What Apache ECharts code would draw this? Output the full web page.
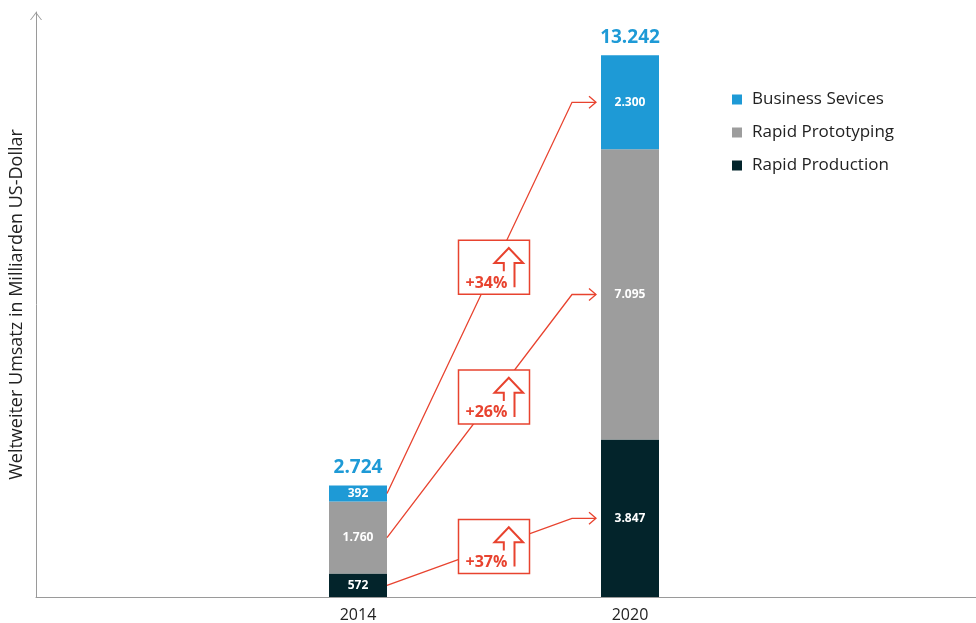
<!DOCTYPE html>
<html>
<head>
<meta charset="utf-8">
<script src="https://cdn.jsdelivr.net/npm/echarts@6/dist/echarts.min.js"></script>
<style>html,body{margin:0;padding:0;background:#fff}#c{width:976px;height:623px}</style>
</head>
<body>
<div id="c"></div>
<script>
const years = ['2014', '2020'];
const production = [572, 3847];
const prototyping = [1760, 7095];
const services = [392, 2300];
const growth = ['+37%', '+26%', '+34%']; // production, prototyping, services
const seriesNames = ['Rapid Production', 'Rapid Prototyping', 'Business Sevices'];
const legendOrder = ['Business Sevices', 'Rapid Prototyping', 'Rapid Production'];
const yAxisName = 'Weltweiter Umsatz in Milliarden US-Dollar';
const yMax = 14300;

const colors = ['#03242b', '#9d9d9d', '#1e9ad6'];
const red = '#e8432f';
const FONT = "'Open Sans', 'Noto Sans', sans-serif";
const fmt = n => String(n).replace(/\B(?=(\d{3})+(?!\d))/g, '.');
const layers = [production, prototyping, services];
const totals = years.map((_, i) => layers.reduce((s, a) => s + a[i], 0));

const chart = echarts.init(document.getElementById('c'));
const barSeries = layers.map((arr, k) => ({
  name: seriesNames[k],
  type: 'bar',
  stack: 'total',
  xAxisIndex: 1, yAxisIndex: 1,
  barWidth: 58,
  itemStyle: { color: colors[k] },
  label: { show: true, position: 'inside', color: '#fff', fontWeight: 'bold', fontSize: 12, fontFamily: FONT,
           formatter: p => fmt(p.value) },
  data: arr
}));
barSeries.push({
  name: 'Summe', type: 'bar', stack: 'total', xAxisIndex: 1, yAxisIndex: 1, barWidth: 58,
  itemStyle: { color: 'transparent' },
  label: { show: true, position: 'top', distance: 8, color: '#1e9ad6', fontWeight: 'bold', fontSize: 19, fontFamily: FONT,
           formatter: p => fmt(totals[p.dataIndex]) },
  data: years.map(() => 0)
});

chart.setOption({
  animation: false,
  textStyle: { fontFamily: FONT },
  grid: [
    { left: 36, right: 0, top: 12, bottom: 26, outerBoundsMode: 'none', containLabel: false },
    { left: 222, right: 210, top: 12, bottom: 26, outerBoundsMode: 'none', containLabel: false }
  ],
  legend: {
    data: legendOrder, orient: 'vertical', left: 732, top: 91, icon: 'rect',
    itemWidth: 10, itemHeight: 10, itemGap: 16, padding: 0,
    textStyle: { color: '#222', fontSize: 17, fontFamily: FONT, padding: [0, 0, 0, 5] }
  },
  xAxis: [
    { gridIndex: 0, type: 'value', min: 0, max: 1,
      axisLine: { show: true, lineStyle: { color: '#9a9a9a', width: 1 } },
      axisTick: { show: false }, axisLabel: { show: false }, splitLine: { show: false } },
    { gridIndex: 1, type: 'category', data: years,
      axisLine: { show: false }, axisTick: { show: false },
      axisLabel: { color: '#222', fontSize: 16, margin: 10, fontFamily: FONT } }
  ],
  yAxis: [
    { gridIndex: 0, type: 'value', min: 0, max: 1,
      axisLine: { show: true, symbol: ['none', 'path://M0,8 L6,0 L12,8 L11,8 L6,1.5 L1,8 Z'], symbolSize: [12, 8],
                  symbolOffset: [0, -4],
                  lineStyle: { color: '#9a9a9a', width: 1 } },
      axisTick: { show: false }, axisLabel: { show: false }, splitLine: { show: false },
      name: yAxisName, nameLocation: 'middle', nameGap: 10, nameRotate: 90,
      nameTextStyle: { color: '#222', fontSize: 18, fontFamily: FONT } },
    { gridIndex: 1, type: 'value', min: 0, max: yMax, show: false, splitLine: { show: false } }
  ],
  series: barSeries
});

// Growth annotations
const conv = (ci, v) => chart.convertToPixel({ gridIndex: 1 }, [ci, v]);
const half = 29;
const graphics = [];
let cum0 = 0, cum1 = 0;
layers.forEach((arr, k) => {
  const m0 = cum0 + arr[0] / 2, m1 = cum1 + arr[1] / 2;
  cum0 += arr[0]; cum1 += arr[1];
  const p0 = conv(0, m0), p1 = conv(1, m1);
  const sx = p0[0] + half, sy = p0[1];
  const ex = p1[0] - half - 5, ey = p1[1];
  const bx = ex - 24;
  graphics.push({ type: 'polyline', z: 10, shape: { points: [[sx, sy], [bx, ey], [ex, ey]] },
                  style: { stroke: red, lineWidth: 1.3, fill: null } });
  graphics.push({ type: 'polyline', z: 10, shape: { points: [[ex - 7, ey - 6], [ex, ey], [ex - 7, ey + 6]] },
                  style: { stroke: red, lineWidth: 1.3, fill: null } });
  const cx = (p0[0] + p1[0]) / 2;
  const cy = sy + (ey - sy) * (cx - sx) / (bx - sx);
  const L = cx - 35.5, T = cy - 27;
  graphics.push({ type: 'rect', z: 11, shape: { x: L, y: T, width: 71, height: 54 },
                  style: { fill: '#fff', stroke: red, lineWidth: 1.5 } });
  graphics.push({ type: 'polyline', z: 12,
                  shape: { points: [[L + 45.3, T + 31], [L + 45.3, T + 22.7], [L + 36, T + 22.7], [L + 50.3, T + 7.7],
                                    [L + 64.6, T + 22.7], [L + 56, T + 22.7], [L + 56, T + 47]] },
                  style: { stroke: red, lineWidth: 2, fill: null } });
  graphics.push({ type: 'text', z: 12, x: L + 7, y: T + 42.7,
                  style: { text: growth[k], fill: red, font: 'bold 16px ' + FONT, textVerticalAlign: 'middle', verticalAlign: 'middle' } });
});
chart.setOption({ graphic: graphics });
</script>
</body>
</html>
